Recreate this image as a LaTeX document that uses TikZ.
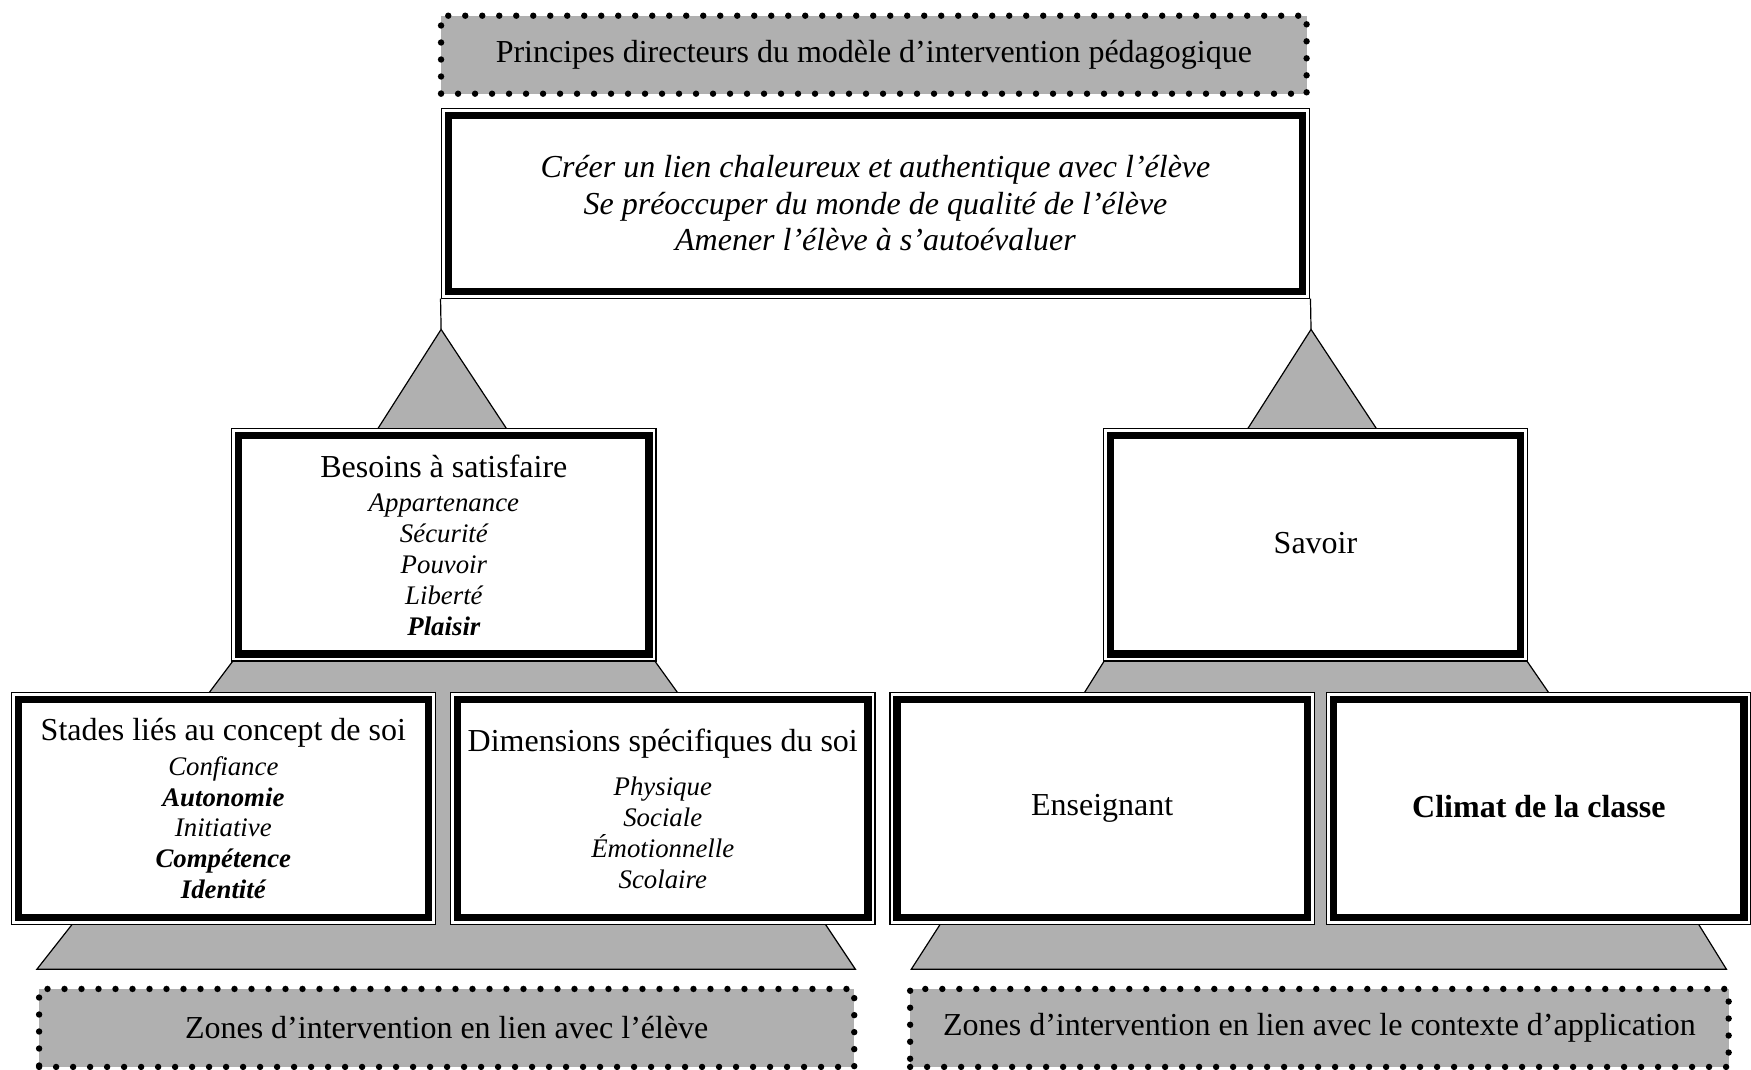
\documentclass[tikz,border=0pt]{standalone}
\usepackage{fontspec}
\setmainfont{Liberation Serif}
\usetikzlibrary{positioning}

\begin{document}
\begin{tikzpicture}[x=0.5584pt,y=-0.5584pt,
  cadre/.style={draw, line width=0.6pt, fill=white, align=center, inner sep=0pt,
    minimum width=212.2pt, minimum height=116.1pt,
    font=\fontsize{13.4}{15.4}\selectfont\itshape,
    path picture={\draw[line width=3.6pt] ([shift={(3.5pt,-3.5pt)}]path picture bounding box.north west) rectangle ([shift={(-3.5pt,3.5pt)}]path picture bounding box.south east);}},
  bandeau/.style={fill=black!31, draw, line width=3.2pt, dash pattern=on 0pt off 8.5pt, line cap=round,
    minimum height=39pt, inner sep=0pt, font=\fontsize{16}{19}\selectfont},
  gris/.style={fill=black!31, draw, line width=0.6pt}]
\useasboundingbox (0,0) rectangle (1568,958);

\node[bandeau, minimum width=432.8pt] (principes) at (782.5,49) {Principes directeurs du modèle d’intervention pédagogique};
\node[cadre, minimum width=434.4pt, minimum height=94.9pt, font=\fontsize{16}{18.4}\selectfont\itshape] (haut) at (784,182)
  {Créer un lien chaleureux et authentique avec l’élève\\Se préoccuper du monde de qualité de l’élève\\Amener l’élève à s’autoévaluer};

\coordinate (sommetG) at (395,295);
\coordinate (sommetD) at (1174,295);
\draw[line width=0.6pt] (haut.south west) -- (sommetG);
\draw[line width=0.6pt] (haut.south east) -- (sommetD);
\filldraw[gris] (sommetG) -- (455,386) -- (337,386) -- cycle;
\filldraw[gris] (sommetD) -- (1234,386) -- (1116,386) -- cycle;

\filldraw[gris] (210,590) -- (585,590) -- (608,622) -- (608,826) -- (738,826) -- (766,868) -- (33,868) -- (66,826) -- (186,826) -- (186,622) -- cycle;
\filldraw[gris] (990,590) -- (1366,590) -- (1388,622) -- (1388,826) -- (1520,826) -- (1546,868) -- (816,868) -- (843,826) -- (970,826) -- (970,622) -- cycle;

\node[cadre] (besoins) at (397.5,488) {{\upshape\fontsize{16}{15.4}\selectfont Besoins à satisfaire}\\[2pt]Appartenance\\Sécurité\\Pouvoir\\Liberté\\\textbf{Plaisir}};
\node[cadre, font=\fontsize{16}{18.4}\selectfont] (savoir) at (1178,488) {\raisebox{2.5pt}{Savoir}};

\node[cadre] (stades) at (200,724) {{\upshape\fontsize{16}{15.4}\selectfont Stades liés au concept de soi}\\[2pt]Confiance\\\textbf{Autonomie}\\Initiative\\\textbf{Compétence}\\\textbf{Identité}};
\node[cadre] (dimensions) at (593.5,724) {{\upshape\fontsize{16}{15.4}\selectfont Dimensions spécifiques du soi}\\[7pt]Physique\\Sociale\\Émotionnelle\\Scolaire};
\node[cadre, font=\fontsize{16}{18.4}\selectfont] (enseignant) at (987,724) {Enseignant};
\node[cadre, font=\fontsize{16}{18.4}\selectfont\bfseries] (climat) at (1378,724) {\raisebox{2pt}{Climat de la classe}};

\node[bandeau, minimum width=407.6pt] (zonesEleve) at (400,920.5) {Zones d’intervention en lien avec l’élève};
\node[bandeau, minimum width=409.3pt] (zonesContexte) at (1181.5,920.5) {Zones d’intervention en lien avec le contexte d’application};

\end{tikzpicture}
\end{document}
